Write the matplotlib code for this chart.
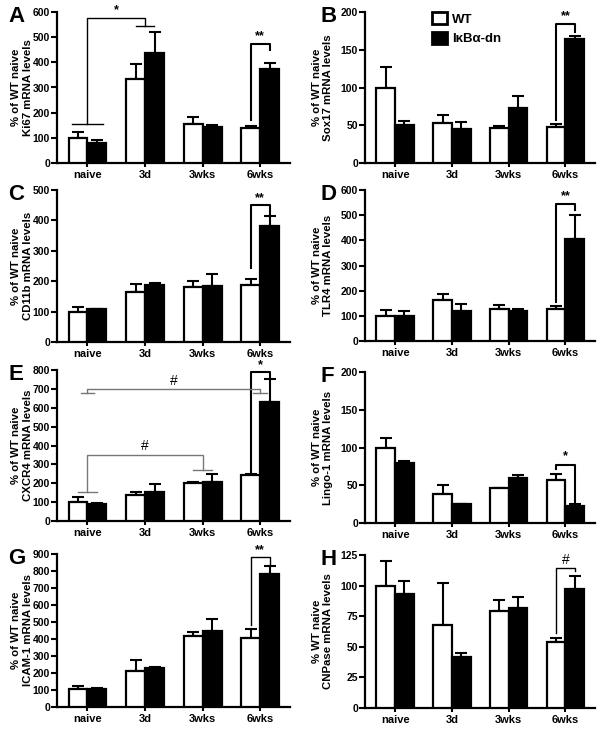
import matplotlib
matplotlib.use("Agg")
import matplotlib.pyplot as plt
from matplotlib.patches import Patch
import numpy as np

plt.rcParams['font.family'] = ['Liberation Sans', 'DejaVu Sans']
plt.rcParams['font.weight'] = 'bold'

groups = ['naive', '3d', '3wks', '6wks']

# panel data: WT mean, WT error (upper), IkBa-dn mean, IkBa-dn error (upper)
ki67_wt = [100, 333, 155, 139]
ki67_wt_err = [22, 59, 27, 8]
ki67_dn = [78, 436, 142, 372]
ki67_dn_err = [12, 86, 8, 25]

sox17_wt = [100, 53, 46, 48]
sox17_wt_err = [27, 11, 3, 3]
sox17_dn = [50, 45, 73, 164]
sox17_dn_err = [6, 9, 16, 4]

cd11b_wt = [100, 163, 182, 188]
cd11b_wt_err = [16, 27, 19, 20]
cd11b_dn = [107, 188, 185, 382]
cd11b_dn_err = [2, 5, 40, 33]

tlr4_wt = [100, 164, 128, 126]
tlr4_wt_err = [23, 22, 17, 14]
tlr4_dn = [98, 121, 118, 404]
tlr4_dn_err = [22, 26, 9, 98]

cxcr4_wt = [100, 137, 200, 243]
cxcr4_wt_err = [29, 14, 7, 5]
cxcr4_dn = [90, 156, 207, 628]
cxcr4_dn_err = [4, 39, 42, 124]

lingo1_wt = [100, 38, 46, 57]
lingo1_wt_err = [12, 12, 0, 8]
lingo1_dn = [80, 25, 59, 22]
lingo1_dn_err = [2, 0, 5, 3]

icam1_wt = [103, 212, 415, 405]
icam1_wt_err = [19, 63, 28, 53]
icam1_dn = [107, 228, 445, 782]
icam1_dn_err = [2, 10, 75, 45]

cnp_wt = [100, 68, 79, 54]
cnp_wt_err = [20, 34, 9, 3]
cnp_dn = [93, 42, 82, 97]
cnp_dn_err = [11, 3, 9, 11]

letters = ['A', 'B', 'C', 'D', 'E', 'F', 'G', 'H']
genes = ['Ki67', 'Sox17', 'CD11b', 'TLR4', 'CXCR4', 'Lingo-1', 'ICAM-1', 'CNPase']
ylabel_first = ['% of WT naive'] * 7 + ['% WT naive']
ymax = [600, 200, 500, 600, 800, 200, 900, 125]
ystep = [100, 50, 100, 100, 100, 50, 100, 25]

wt_vals = [ki67_wt, sox17_wt, cd11b_wt, tlr4_wt, cxcr4_wt, lingo1_wt, icam1_wt, cnp_wt]
wt_errs = [ki67_wt_err, sox17_wt_err, cd11b_wt_err, tlr4_wt_err, cxcr4_wt_err, lingo1_wt_err, icam1_wt_err, cnp_wt_err]
dn_vals = [ki67_dn, sox17_dn, cd11b_dn, tlr4_dn, cxcr4_dn, lingo1_dn, icam1_dn, cnp_dn]
dn_errs = [ki67_dn_err, sox17_dn_err, cd11b_dn_err, tlr4_dn_err, cxcr4_dn_err, lingo1_dn_err, icam1_dn_err, cnp_dn_err]

# significance brackets: (x1, x2, y_left, y_top, y_right, label, color, lw, capL, capR, label_y)
brackets = {
    'A': [(2.835, 3.165, 172, 473, 449, '**', 'black', 1.5, 0, 0, 480),
          (0.0, 1.0, 156, 578, 545, '*', 'black', 1.0, 0.27, 0.16, 585)],
    'B': [(2.835, 3.165, 57, 184, 174, '**', 'black', 1.5, 0, 0, 186)],
    'C': [(2.835, 3.165, 245, 450, 418, '**', 'black', 1.5, 0, 0, 455)],
    'D': [(2.835, 3.165, 155, 544, 520, '**', 'black', 1.5, 0, 0, 550)],
    'E': [(2.835, 3.165, 255, 790, 760, '*', 'black', 1.5, 0, 0, 795),
          (0.0, 3.0, 677, 698, 677, '#', '#777777', 1.0, 0.12, 0.12, 706),
          (0.0, 2.0, 154, 350, 268, '#', '#777777', 1.0, 0.17, 0.17, 360)],
    'F': [(2.835, 3.165, 71, 77, 27, '*', 'black', 1.5, 0, 0, 80)],
    'G': [(2.835, 3.165, 483, 880, 835, '**', 'black', 1.0, 0, 0, 885)],
    'H': [(2.835, 3.165, 61.5, 114, 112, '#', 'black', 1.0, 0, 0, 115)],
}

W, H = 600, 729
# axes boxes in pixels: (left, top, right, bottom)
boxes = [
    (57, 12, 290, 163), (365, 12, 595, 163),
    (57, 190, 290, 342), (365, 190, 595, 341),
    (57, 370, 290, 521), (365, 372, 595, 523),
    (57, 554, 290, 707), (365, 555, 595, 708),
]

fig = plt.figure(figsize=(6.0, 7.29), dpi=100)
x = np.arange(len(groups))
bw = 0.33

for i in range(8):
    l, t, r, b = boxes[i]
    ax = fig.add_axes([l / W, 1 - b / H, (r - l) / W, (b - t) / H])
    ax.bar(x - bw / 2, wt_vals[i], bw, color='white', edgecolor='black', linewidth=1.6, zorder=3)
    ax.bar(x + bw / 2, dn_vals[i], bw, color='black', edgecolor='black', linewidth=1.6, zorder=3)
    ax.errorbar(x - bw / 2, wt_vals[i], yerr=[np.zeros(4), wt_errs[i]], fmt='none',
                ecolor='black', elinewidth=1.5, capsize=4, capthick=1.5, zorder=2)
    ax.errorbar(x + bw / 2, dn_vals[i], yerr=[np.zeros(4), dn_errs[i]], fmt='none',
                ecolor='black', elinewidth=1.5, capsize=4, capthick=1.5, zorder=2)
    ax.set_xlim(-0.53, 3.52)
    ax.set_ylim(0, ymax[i])
    ax.set_yticks(np.arange(0, ymax[i] + 1, ystep[i]))
    ax.set_xticks(x)
    ax.set_xticklabels(groups, fontsize=8, fontweight='bold')
    for lab in ax.get_yticklabels():
        lab.set_fontsize(7.5)
        lab.set_fontweight('bold')
    ax.tick_params(axis='y', length=4, width=1.5, pad=1)
    ax.tick_params(axis='x', length=3, width=1.5, pad=2)
    for s in ['top', 'right']:
        ax.spines[s].set_visible(False)
    for s in ['left', 'bottom']:
        ax.spines[s].set_linewidth(1.6)
    ax.set_ylabel(ylabel_first[i] + '\n' + genes[i] + ' mRNA levels', fontsize=8.2,
                  fontweight='bold', linespacing=1.15)
    ax.yaxis.set_label_coords(-0.105 if i % 2 == 0 else -0.14, 0.5)

    for (x1, x2, yl, yt, yr, txt, col, lw, cl, cr, ty) in brackets[letters[i]]:
        ax.plot([x1, x1, x2, x2], [yl, yt, yt, yr], color=col, lw=lw, clip_on=False, zorder=4)
        if cl:
            ax.plot([x1 - cl, x1 + cl], [yl, yl], color=col, lw=lw, clip_on=False, zorder=4)
        if cr:
            ax.plot([x2 - cr, x2 + cr], [yr, yr], color=col, lw=lw, clip_on=False, zorder=4)
        fs = 10 if txt == '#' else 9
        ax.text((x1 + x2) / 2, ty, txt, ha='center', va='bottom', fontsize=fs,
                fontweight='normal' if txt == '#' else 'bold', color='black')

    lx = 8 if i % 2 == 0 else 320
    fig.text(lx / W, 1 - (t - 6) / H, letters[i], fontsize=16, fontweight='bold',
             ha='left', va='top')

    if i == 1:
        handles = [Patch(facecolor='white', edgecolor='black', linewidth=2),
                   Patch(facecolor='black', edgecolor='black', linewidth=2)]
        ax.legend(handles, ['WT', 'I\u03baB\u03b1-dn'], loc='upper left',
                  bbox_to_anchor=(0.24, 1.08), frameon=False,
                  handlelength=1.1, handleheight=1.1, handletextpad=0.4,
                  labelspacing=0.45, prop={'weight': 'bold', 'size': 9.5})

fig.savefig('out.png', dpi=100)
